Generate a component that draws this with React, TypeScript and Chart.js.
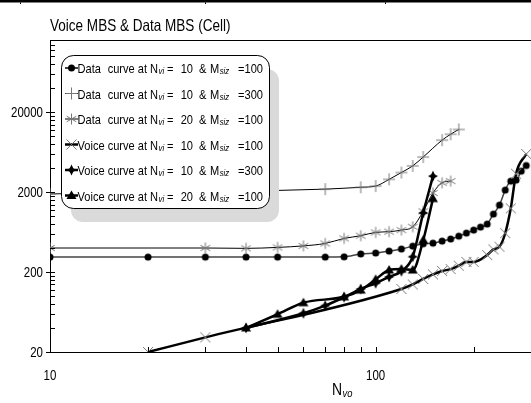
import React, { useEffect, useRef } from 'react';
import { Chart, registerables } from 'chart.js';

Chart.register(...registerables);

const FONT = "'Liberation Sans', Arial, sans-serif";
const NARROW = 0.82;

const chartTitle = 'Voice MBS & Data MBS (Cell)';
const xAxisTitleMain = 'N';
const xAxisTitleSub = 'vo';

const xTickValues = [10, 20, 30, 40, 50, 60, 70, 80, 90, 100, 200, 300];
const xTickLabels = [10, 100];
const yTickValues = [
  20, 40, 60, 80, 100, 120, 140, 160, 180,
  200, 400, 600, 800, 1000, 1200, 1400, 1600, 1800,
  2000, 4000, 6000, 8000, 10000, 12000, 14000, 16000, 18000,
  20000, 40000, 60000, 80000, 100000, 120000, 140000, 160000,
];
const yTickLabels = [20, 200, 2000, 20000];

// Data curve at Nvi = 10 & Msiz = 100 (circles)
const data10m100X = [10, 20, 30, 40, 50, 70, 80, 90, 100, 110, 120, 130, 140, 150, 160, 170, 180, 190, 200, 210, 220, 230, 240, 250, 260, 270, 280, 290];
const data10m100Y = [308, 308, 308, 308, 308, 308, 310, 337, 346, 366, 388, 422, 452, 460, 488, 518, 563, 614, 670, 730, 796, 1062, 1376, 2120, 2745, 2826, 3660, 4300];

// Data curve at Nvi = 10 & Msiz = 300 (plus)
const data10m300X = [10, 70, 90, 100, 110, 120, 130, 140, 160, 170, 180];
const data10m300Y = [1900, 2180, 2300, 2380, 2890, 3520, 4260, 5500, 8940, 10600, 12160];

// Data curve at Nvi = 20 & Msiz = 100 (asterisk)
const data20m100X = [10, 30, 40, 50, 60, 70, 80, 90, 100, 110, 120, 130, 140, 150, 160, 170];
const data20m100Y = [400, 400, 396, 407, 425, 456, 527, 570, 627, 640, 670, 737, 1150, 1950, 2620, 2750];

// Voice curve at Nvi = 10 & Msiz = 100 (x)
const voice10m100X = [20, 30, 120, 130, 140, 150, 160, 170, 180, 190, 200, 220, 230, 240, 250, 260, 270, 290];
const voice10m100Y = [20, 30.5, 123, 140, 164, 187, 206, 218, 240, 268, 268, 326, 384, 415, 612, 1254, 3400, 6000];

// Voice curve at Nvi = 10 & Msiz = 300 (diamond)
const voice10m300X = [40, 60, 70, 80, 90, 100, 110, 120, 130, 140, 150];
const voice10m300Y = [40, 61, 76, 97, 123, 145, 174, 205, 311, 1100, 3170];

// Voice curve at Nvi = 20 & Msiz = 100 (triangle)
const voice20m100X = [40, 50, 60, 80, 90, 100, 110, 120, 130, 140, 150];
const voice20m100Y = [40, 59.3, 82.7, 98, 119, 162, 212, 218, 212, 502, 1660];

const legendKind = ['Data', 'Data', 'Data', 'Voice', 'Voice', 'Voice'];
const legendNvi = ['10', '10', '20', '10', '10', '20'];
const legendMsiz = ['100', '300', '100', '100', '300', '100'];
const legendMarker = ['circle', 'plus', 'asterisk', 'xcross', 'diamond', 'triangle'];
const legendLineWidth = [1.5, 1, 1, 2.5, 2.5, 2.5];

type MarkerKind = 'circle' | 'plus' | 'asterisk' | 'xcross' | 'diamond' | 'triangle';

function drawMarker(ctx: CanvasRenderingContext2D, kind: MarkerKind, x: number, y: number) {
  ctx.save();
  const gray = '#777777';
  switch (kind) {
    case 'circle':
      ctx.fillStyle = '#000';
      ctx.beginPath();
      ctx.arc(x, y, 3.5, 0, Math.PI * 2);
      ctx.fill();
      break;
    case 'plus':
      ctx.strokeStyle = gray;
      ctx.lineWidth = 1;
      ctx.beginPath();
      ctx.moveTo(x - 6, y);
      ctx.lineTo(x + 6, y);
      ctx.moveTo(x, y - 6);
      ctx.lineTo(x, y + 6);
      ctx.stroke();
      break;
    case 'asterisk': {
      ctx.strokeStyle = gray;
      ctx.lineWidth = 1;
      ctx.beginPath();
      const r = 5.5;
      [90, 30, 150].forEach((deg) => {
        const a = (deg * Math.PI) / 180;
        ctx.moveTo(x - r * Math.cos(a), y - r * Math.sin(a));
        ctx.lineTo(x + r * Math.cos(a), y + r * Math.sin(a));
      });
      ctx.stroke();
      break;
    }
    case 'xcross':
      ctx.strokeStyle = gray;
      ctx.lineWidth = 1;
      ctx.beginPath();
      ctx.moveTo(x - 5, y - 5);
      ctx.lineTo(x + 5, y + 5);
      ctx.moveTo(x - 5, y + 5);
      ctx.lineTo(x + 5, y - 5);
      ctx.stroke();
      break;
    case 'diamond': {
      ctx.fillStyle = '#000';
      ctx.beginPath();
      const o = 5.5;
      const i = 1.8;
      ctx.moveTo(x, y - o);
      ctx.lineTo(x + i, y - i);
      ctx.lineTo(x + o - 0.5, y);
      ctx.lineTo(x + i, y + i);
      ctx.lineTo(x, y + o);
      ctx.lineTo(x - i, y + i);
      ctx.lineTo(x - o + 0.5, y);
      ctx.lineTo(x - i, y - i);
      ctx.closePath();
      ctx.fill();
      break;
    }
    case 'triangle':
      ctx.fillStyle = '#000';
      ctx.beginPath();
      ctx.moveTo(x, y - 5);
      ctx.lineTo(x + 5, y + 3.5);
      ctx.lineTo(x - 5, y + 3.5);
      ctx.closePath();
      ctx.fill();
      break;
  }
  ctx.restore();
}

function makeMarkerCanvas(kind: MarkerKind): HTMLCanvasElement {
  const c = document.createElement('canvas');
  c.width = 16;
  c.height = 16;
  const cx = c.getContext('2d');
  if (cx) drawMarker(cx, kind, 8, 8);
  return c;
}

function pairs(xs: number[], ys: number[]) {
  return xs.map((x, i) => ({ x, y: ys[i] }));
}

function measureNarrow(ctx: CanvasRenderingContext2D, text: string, font: string): number {
  ctx.save();
  ctx.font = font;
  const w = ctx.measureText(text).width * NARROW;
  ctx.restore();
  return w;
}

// draw horizontally condensed text (narrow face look)
function narrowText(
  ctx: CanvasRenderingContext2D,
  text: string,
  x: number,
  y: number,
  font: string,
  align: CanvasTextAlign = 'left',
): number {
  ctx.save();
  ctx.font = font;
  ctx.textAlign = align;
  ctx.textBaseline = 'alphabetic';
  ctx.translate(x, y);
  ctx.scale(NARROW, 1);
  ctx.fillText(text, 0, 0);
  const w = ctx.measureText(text).width * NARROW;
  ctx.restore();
  return w;
}

function roundRectPath(ctx: CanvasRenderingContext2D, x: number, y: number, w: number, h: number, r: number) {
  ctx.beginPath();
  ctx.moveTo(x + r, y);
  ctx.lineTo(x + w - r, y);
  ctx.arcTo(x + w, y, x + w, y + r, r);
  ctx.lineTo(x + w, y + h - r);
  ctx.arcTo(x + w, y + h, x + w - r, y + h, r);
  ctx.lineTo(x + r, y + h);
  ctx.arcTo(x, y + h, x, y + h - r, r);
  ctx.lineTo(x, y + r);
  ctx.arcTo(x, y, x + r, y, r);
  ctx.closePath();
}

const decorPlugin = {
  id: 'decor',
  afterDraw(chart: any) {
    const ctx: CanvasRenderingContext2D = chart.ctx;
    const { left, right, top, bottom } = chart.chartArea;
    const xs = chart.scales.x;
    const ys = chart.scales.y;
    ctx.save();

    // page border line at the very top
    ctx.fillStyle = '#000';
    ctx.fillRect(0, 0, chart.width, 2.5);
    [20, 205, 385].forEach((nx) => ctx.fillRect(nx, 2.5, 1, 1.5));

    // top frame line
    ctx.strokeStyle = '#000';
    ctx.lineWidth = 1;
    ctx.beginPath();
    ctx.moveTo(left, top + 0.5);
    ctx.lineTo(right, top + 0.5);
    ctx.stroke();

    // inward tick marks
    ctx.beginPath();
    xTickValues.forEach((v) => {
      if (v <= 10) return;
      const px = Math.round(xs.getPixelForValue(v)) + 0.5;
      if (px > right + 1) return;
      ctx.moveTo(px, bottom);
      ctx.lineTo(px, bottom - 5);
    });
    yTickValues.forEach((v) => {
      const py = Math.round(ys.getPixelForValue(v)) + 0.5;
      if (py < top - 1) return;
      const major = yTickLabels.includes(v);
      ctx.moveTo(left - (major ? 4 : 0), py);
      ctx.lineTo(left + 5, py);
    });
    ctx.stroke();

    // tick labels
    ctx.fillStyle = '#000';
    const tickFont = `14px ${FONT}`;
    xTickLabels.forEach((v) => {
      narrowText(ctx, String(v), xs.getPixelForValue(v), 380, tickFont, 'center');
    });
    yTickLabels.forEach((v) => {
      narrowText(ctx, String(v), 43, ys.getPixelForValue(v) + 5, tickFont, 'right');
    });

    // title
    narrowText(ctx, chartTitle, 50, 31, `16.5px ${FONT}`);

    // x axis title
    const nW = narrowText(ctx, xAxisTitleMain, 332, 395, `17px ${FONT}`);
    narrowText(ctx, xAxisTitleSub, 332 + nW + 0.5, 397, `italic 11.5px ${FONT}`);

    // legend
    const bx = 61, by = 55, bw = 208, bh = 153;
    ctx.fillStyle = '#dadada';
    roundRectPath(ctx, bx + 10, by + 14, bw, bh, 12);
    ctx.fill();
    ctx.fillStyle = '#fff';
    ctx.strokeStyle = '#000';
    ctx.lineWidth = 1;
    roundRectPath(ctx, bx + 0.5, by + 0.5, bw, bh, 12);
    ctx.fill();
    ctx.stroke();

    const lf = `13.5px ${FONT}`;
    const sf = `italic 9.5px ${FONT}`;
    const curveX = 77.5 + measureNarrow(ctx, 'Voice ', lf);
    const nX = curveX + measureNarrow(ctx, 'curve at ', lf);
    for (let i = 0; i < 6; i++) {
      const cy = 68 + i * 25.5;
      const base = cy + 5;
      ctx.strokeStyle = '#000';
      ctx.lineWidth = legendLineWidth[i];
      ctx.beginPath();
      ctx.moveTo(65, cy);
      ctx.lineTo(78, cy);
      ctx.stroke();
      drawMarker(ctx, legendMarker[i] as MarkerKind, 71.5, cy);

      ctx.fillStyle = '#000';
      narrowText(ctx, legendKind[i], 77.5, base, lf, 'left');
      narrowText(ctx, 'curve at', curveX, base, lf, 'left');
      const nw = narrowText(ctx, 'N', nX, base, lf, 'left');
      narrowText(ctx, 'vi', nX + nw + 0.5, base + 1, sf, 'left');
      narrowText(ctx, '=', 167, base, lf, 'left');
      narrowText(ctx, legendNvi[i], 193, base, lf, 'right');
      narrowText(ctx, '&', 199, base, lf, 'left');
      const mw = narrowText(ctx, 'M', 210, base, lf, 'left');
      narrowText(ctx, 'siz', 210 + mw + 0.5, base + 1, sf, 'left');
      narrowText(ctx, '=', 238, base, lf, 'left');
      narrowText(ctx, legendMsiz[i], 263, base, lf, 'right');
    }

    ctx.restore();
  },
};

export default function App() {
  const ref = useRef<HTMLCanvasElement | null>(null);

  useEffect(() => {
    if (!ref.current) return;
    const mCircle = makeMarkerCanvas('circle');
    const mPlus = makeMarkerCanvas('plus');
    const mAst = makeMarkerCanvas('asterisk');
    const mX = makeMarkerCanvas('xcross');
    const mDia = makeMarkerCanvas('diamond');
    const mTri = makeMarkerCanvas('triangle');

    const common = {
      fill: false,
      pointRadius: 4,
      cubicInterpolationMode: 'monotone' as const,
      borderColor: '#000',
    };

    const chart = new Chart(ref.current, {
      type: 'line',
      data: {
        datasets: [
          { ...common, data: pairs(voice20m100X, voice20m100Y), borderWidth: 2.5, pointStyle: mTri },
          { ...common, data: pairs(voice10m300X, voice10m300Y), borderWidth: 2.5, pointStyle: mDia },
          { ...common, data: pairs(voice10m100X, voice10m100Y), borderWidth: 2.5, pointStyle: mX },
          { ...common, data: pairs(data20m100X, data20m100Y), borderWidth: 1, pointStyle: mAst },
          { ...common, data: pairs(data10m300X, data10m300Y), borderWidth: 1, pointStyle: mPlus },
          { ...common, data: pairs(data10m100X, data10m100Y), borderWidth: 1.5, borderColor: '#444', pointStyle: mCircle },
        ] as any,
      },
      options: {
        animation: false,
        responsive: false,
        devicePixelRatio: 1,
        layout: { autoPadding: false, padding: { top: 40, left: 0, right: 0, bottom: 0 } },
        plugins: {
          legend: { display: false },
          title: { display: false },
          tooltip: { enabled: false },
        },
        scales: {
          x: {
            type: 'logarithmic',
            min: 10,
            max: 300,
            grid: { display: false, drawTicks: false },
            border: { display: true, color: '#000', width: 1 },
            afterBuildTicks: (axis: any) => {
              axis.ticks = xTickValues.map((v) => ({ value: v }));
            },
            afterFit: (axis: any) => {
              axis.height = 51;
            },
            ticks: { display: false },
          },
          y: {
            type: 'logarithmic',
            min: 20,
            max: 160000,
            grid: { display: false, drawTicks: false },
            border: { display: true, color: '#000', width: 1 },
            afterBuildTicks: (axis: any) => {
              axis.ticks = yTickValues.map((v) => ({ value: v }));
            },
            afterFit: (axis: any) => {
              axis.width = 50;
            },
            ticks: { display: false },
          },
        },
      } as any,
      plugins: [decorPlugin],
    });
    return () => chart.destroy();
  }, []);

  return (
    <div style={{ position: 'fixed', left: 0, top: 0, width: 531, height: 403, background: '#fff' }}>
      <canvas ref={ref} width={531} height={403} style={{ width: 531, height: 403, display: 'block' }} />
    </div>
  );
}
